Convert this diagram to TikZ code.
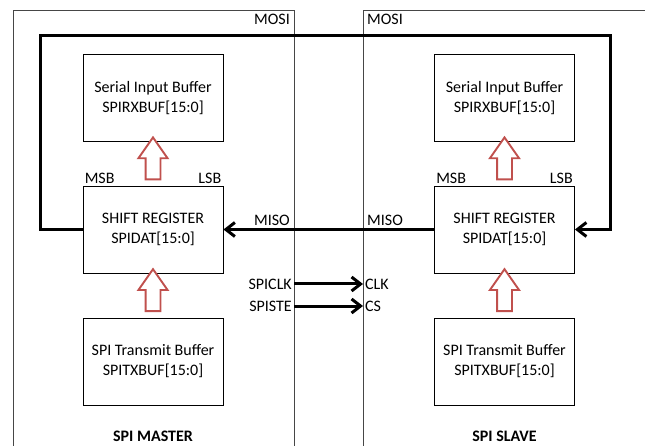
\documentclass[tikz,border=0pt]{standalone}
\usepackage{fontspec}
\setmainfont{Carlito}
\usetikzlibrary{positioning,arrows.meta,shapes.arrows,calc}
\definecolor{bufred}{RGB}{192, 80, 77}
\definecolor{framegray}{RGB}{70, 70, 70}

\begin{document}
\begin{tikzpicture}[x=1pt, y=-1pt, font=\fontsize{16}{20}\selectfont,
        buffer node/.style={rectangle, draw, line width=0.9pt, minimum width=140pt, minimum height=87pt, align=center, inner sep=0pt},
        label node/.style={inner sep=2pt},
        title node/.style={inner sep=0pt, anchor=base, font=\fontsize{16}{20}\selectfont\bfseries},
        transfer arrow/.style={single arrow, draw=bufred, fill=white, line width=1.9pt, rotate=90, minimum height=42pt, minimum width=25pt, inner sep=6.5pt, single arrow tip angle=70},
        signal/.style={line width=3pt, -{Straight Barb[length=9pt, width=14pt]}},
        frame/.style={draw=framegray, line width=0.9pt}]

    \useasboundingbox (0,0) rectangle (645,446);

    % the two devices
    \draw[frame] (13,446) |- (294,10) -- (294,446);
    \draw[frame] (363,446) -- (363,10) -- (645,10);

    % master
    \node[buffer node] (mrx) at (153, 98) {Serial Input Buffer\\SPIRXBUF[15:0]};
    \node[buffer node] (msr) at (153, 229.5) {SHIFT REGISTER\\SPIDAT[15:0]};
    \node[buffer node] (mtx) at (153, 361.5) {SPI Transmit Buffer\\SPITXBUF[15:0]};

    % slave
    \node[buffer node] (srx) at (504.5, 98) {Serial Input Buffer\\SPIRXBUF[15:0]};
    \node[buffer node] (ssr) at (504.5, 229.5) {SHIFT REGISTER\\SPIDAT[15:0]};
    \node[buffer node] (stx) at (504.5, 361.5) {SPI Transmit Buffer\\SPITXBUF[15:0]};

    % hollow transfer arrows
    \node[transfer arrow] (mup1) at ($(msr.north)!0.5!(mrx.south)$) {};
    \node[transfer arrow] (mup2) at ($(mtx.north)!0.5!(msr.south)$) {};
    \node[transfer arrow] (sup1) at ($(ssr.north)!0.5!(srx.south)$) {};
    \node[transfer arrow] (sup2) at ($(stx.north)!0.5!(ssr.south)$) {};

    % bit order labels
    \node[label node, anchor=south west] (mmsb) at (msr.north west) {MSB};
    \node[label node, anchor=south east] (mlsb) at (msr.north east) {LSB};
    \node[label node, anchor=south west] (smsb) at (ssr.north west) {MSB};
    \node[label node, anchor=south east] (slsb) at (ssr.north east) {LSB};

    % pin labels
    \node[label node, anchor=north east] (mmosi) at (292, 12) {MOSI};
    \node[label node, anchor=north west] (smosi) at (365, 12) {MOSI};
    \node[label node, anchor=south east] (mmiso) at (292, 228) {MISO};
    \node[label node, anchor=south west] (smiso) at (365, 228) {MISO};
    \node[label node, anchor=east] (spiclk) at (294, 284) {SPICLK};
    \node[label node, anchor=east] (spiste) at (294, 306) {SPISTE};
    \node[label node, anchor=west] (clk) at (363, 284) {CLK};
    \node[label node, anchor=west] (cs) at (363, 306) {CS};

    \coordinate (moL) at (40, 36);
    \coordinate (moR) at (610, 36);

    % signal lines
    \draw[signal] (msr.west) -| (moL) -- (moR) |- (ssr.east);
    \draw[signal] (ssr.west) -- (msr.east);
    \draw[signal] (spiclk.east) -- (clk.west);
    \draw[signal] (spiste.east) -- (cs.west);

    % titles
    \node[title node] (mtitle) at (153, 441) {SPI MASTER};
    \node[title node] (stitle) at (504.5, 441) {SPI SLAVE};

\end{tikzpicture}
\end{document}
